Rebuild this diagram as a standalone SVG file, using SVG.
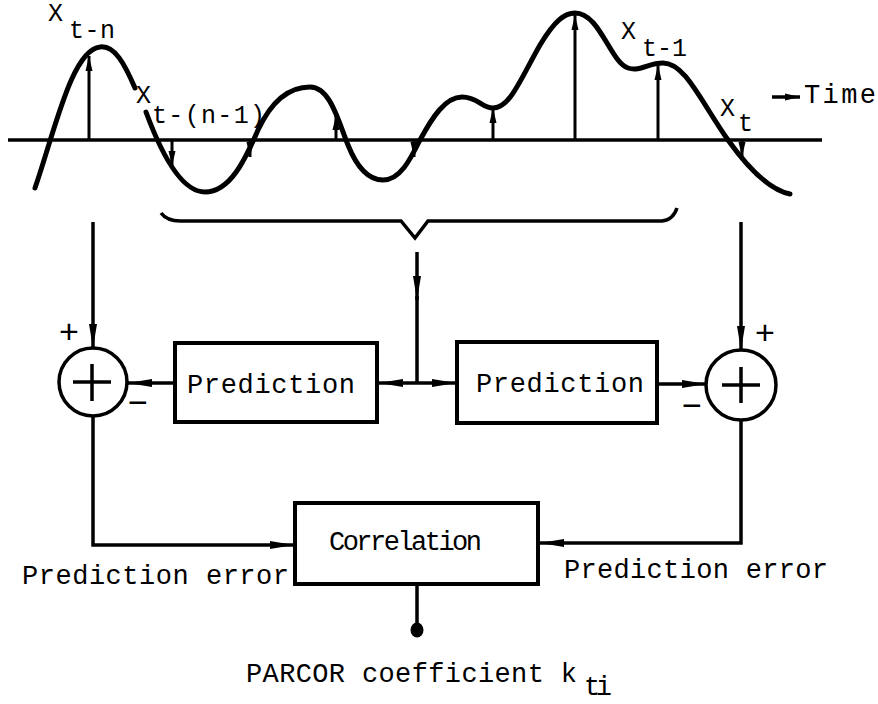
<svg xmlns="http://www.w3.org/2000/svg" width="878" height="704" viewBox="0 0 878 704">
<style>
  .t { font-family: "Liberation Mono", "Courier New", monospace; font-size: 27px; fill: #000; }
  .s { font-family: "Liberation Mono", "Courier New", monospace; font-size: 25px; fill: #000; }
  .pm { font-family: "Liberation Sans", Arial, sans-serif; font-size: 34px; fill: #000; text-anchor: middle; }
  .box { fill: #fff; stroke: #000; stroke-width: 4; }
  .ring { fill: #fff; stroke: #000; stroke-width: 3.5; }
  .ln { fill: none; stroke: #000; stroke-width: 3.5; }
  .wave { fill: none; stroke: #000; stroke-width: 5; stroke-linecap: round; }
  .smp { fill: none; stroke: #000; stroke-width: 3; }
</style>
<defs>
  <marker id="ah" markerUnits="userSpaceOnUse" markerWidth="26" markerHeight="12" refX="24" refY="6" orient="auto">
    <path d="M0,2 L24,6 L0,10 Q-3,6 0,2 z" fill="#000"/>
  </marker>
  <marker id="sh" markerUnits="userSpaceOnUse" markerWidth="16" markerHeight="8" refX="15" refY="4" orient="auto">
    <path d="M0,0.5 L15,4 L0,7.5 z" fill="#000"/>
  </marker>
</defs>

<g id="signal">
  <path class="ln" d="M8,140 H822" stroke-width="4"/>
  <path class="wave" d="M35,188 C55,130 72,50 100,47 C115,45 125,65 135,88"/>
  <path class="wave" d="M146,112 C160,150 180,192 205,192 C230,192 245,160 258,130 C272,100 290,87 310,87 C330,87 338,120 348,145 C358,170 370,180 383,180 C400,180 410,160 420,140 C432,118 445,97 462,97 C478,97 482,108 493,108 C510,108 520,80 540,45 C555,20 565,13 575,13 C600,13 610,62 628,68 C640,72 648,63 663,63 C685,63 700,100 728,140 C748,168 770,190 790,194"/>
  <path class="smp" d="M89,140 V56" marker-end="url(#sh)"/>
  <path class="smp" d="M172,140 V166" marker-end="url(#sh)"/>
  <path class="smp" d="M250,140 V157" marker-end="url(#sh)"/>
  <path class="smp" d="M336,140 V115" marker-end="url(#sh)"/>
  <path class="smp" d="M414,140 V157" marker-end="url(#sh)"/>
  <path class="smp" d="M493,140 V108" marker-end="url(#sh)"/>
  <path class="smp" d="M575,140 V15" marker-end="url(#sh)"/>
  <path class="smp" d="M658,140 V65" marker-end="url(#sh)"/>
  <path class="smp" d="M742,140 V157" marker-end="url(#sh)"/>
  <text class="s" x="48" y="21">X</text>
  <text class="s" x="69" y="38" textLength="46" lengthAdjust="spacing">t-n</text>
  <text class="s" x="136" y="103">X</text>
  <text class="s" x="152" y="123" textLength="113" lengthAdjust="spacing">t-(n-1)</text>
  <text class="s" x="621" y="39">X</text>
  <text class="s" x="642" y="56" textLength="45" lengthAdjust="spacing">t-1</text>
  <text class="s" x="720" y="116">X</text>
  <text class="s" x="738" y="131">t</text>
  <path class="ln" d="M772,97 H800" stroke-width="3" marker-end="url(#sh)"/>
  <text class="t" x="804" y="103" textLength="72" lengthAdjust="spacing">Time</text>
</g>

<g id="brace">
  <path class="ln" stroke-width="3" d="M161,213 Q167,221 180,221 L401,221 L415,238 L428,221 L662,221 Q673,220 677,208"/>
</g>

<g id="sumL">
  <circle class="ring" cx="93" cy="382" r="34"/>
  <path class="ln" d="M73,382 H111 M92,364 V401"/>
  <text class="pm" x="69" y="343">+</text>
  <text class="pm" x="138" y="414">−</text>
</g>

<g id="sumR">
  <circle class="ring" cx="741" cy="385" r="35"/>
  <path class="ln" d="M722,385 H760 M741,367 V403"/>
  <text class="pm" x="765" y="344">+</text>
  <text class="pm" x="692" y="417">−</text>
</g>

<g id="predL">
  <rect class="box" x="175" y="343" width="202" height="79"/>
  <text class="t" x="187" y="393" textLength="168" lengthAdjust="spacing">Prediction</text>
</g>

<g id="predR">
  <rect class="box" x="457" y="342" width="200" height="81"/>
  <text class="t" x="476" y="392" textLength="168" lengthAdjust="spacing">Prediction</text>
</g>

<g id="corr">
  <rect class="box" x="295" y="503" width="243" height="81"/>
  <text class="t" x="329" y="550" textLength="153" lengthAdjust="spacing">Correlation</text>
</g>

<g id="output">
  <ellipse cx="417" cy="630" rx="6.5" ry="7.5" fill="#000"/>
  <text class="t" x="246" y="682" textLength="331" lengthAdjust="spacing">PARCOR coefficient k</text>
  <text class="t" x="584" y="695" font-size="25" textLength="28" lengthAdjust="spacing">ti</text>
</g>

<g id="labels">
  <text class="t" x="22" y="584" textLength="267" lengthAdjust="spacing">Prediction error</text>
  <text class="t" x="564" y="578" textLength="264" lengthAdjust="spacing">Prediction error</text>
</g>

<g id="connectors">
  <path class="ln" d="M93,222 V348" marker-end="url(#ah)"/>
  <path class="ln" d="M741,222 V350" marker-end="url(#ah)"/>
  <path class="ln" d="M417,252 V300" marker-end="url(#ah)"/>
  <path class="ln" d="M417,296 V383"/>
  <path class="ln" d="M417,383 H379" marker-end="url(#ah)"/>
  <path class="ln" d="M417,383 H456" marker-end="url(#ah)"/>
  <path class="ln" d="M175,383 H128" marker-end="url(#ah)"/>
  <path class="ln" d="M657,384 H706" marker-end="url(#ah)"/>
  <path class="ln" d="M93,416 V545 H294" marker-end="url(#ah)"/>
  <path class="ln" d="M741,420 V543 H540" marker-end="url(#ah)"/>
  <path class="ln" d="M417,584 V628"/>
</g>
</svg>
